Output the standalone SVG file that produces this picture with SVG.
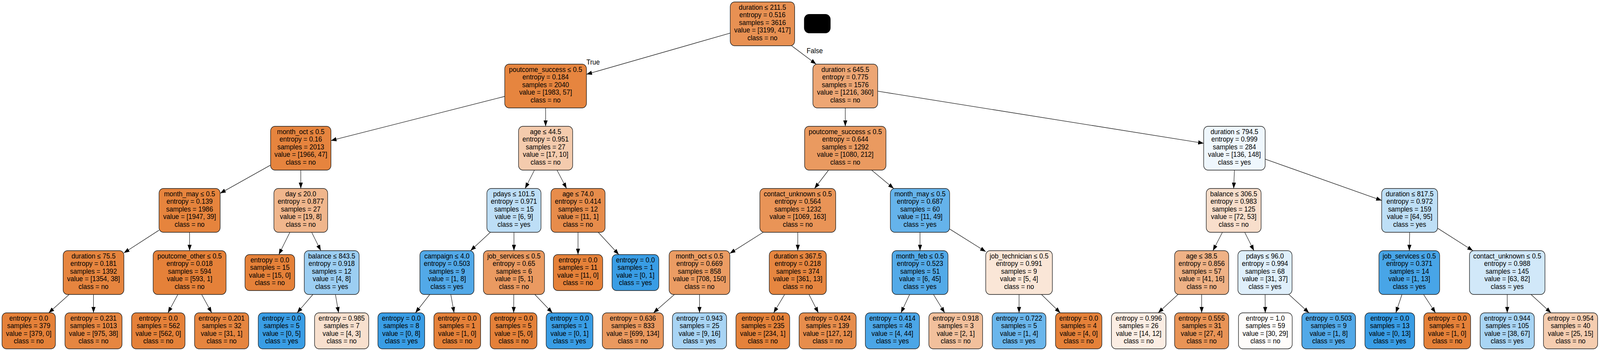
<svg xmlns="http://www.w3.org/2000/svg" width="4346" height="895" viewBox="0 0 4346 895" preserveAspectRatio="none">
<defs>
<style>
svg:root{width:100vw;height:100vh}
.nd rect{stroke:#1a1a1a;stroke-width:1.4}
text{font-family:"Liberation Sans",Arial,Helvetica,sans-serif;font-size:18px;text-anchor:middle;fill:#000}
#edges line{stroke:#1a1a1a;stroke-width:1.3;marker-end:url(#ah)}
</style>
<marker id="ah" markerWidth="15" markerHeight="11" refX="15" refY="5.5" orient="auto" markerUnits="userSpaceOnUse"><path d="M0,0 L15,5.5 L0,11 z" fill="#000"/></marker>
</defs>
<rect width="4346" height="895" fill="#fff"/>
<g id="edges">
<line x1="1983.5" y1="84.6" x2="1593" y2="190"/>
<line x1="2150.2" y1="117" x2="2216.8" y2="164"/>
<line x1="1371" y1="246.5" x2="899" y2="359.4"/>
<line x1="1482" y1="276" x2="1482" y2="323"/>
<line x1="2296" y1="276" x2="2296" y2="323"/>
<line x1="2384" y1="233.2" x2="3269.5" y2="366.4"/>
<line x1="735" y1="422.2" x2="598" y2="494.3"/>
<line x1="817" y1="435" x2="817" y2="482"/>
<line x1="1451.7" y1="435" x2="1426.3" y2="482"/>
<line x1="1513" y1="435" x2="1539" y2="482"/>
<line x1="2250.6" y1="435" x2="2212.4" y2="482"/>
<line x1="2367.5" y1="435" x2="2427.5" y2="482"/>
<line x1="3353" y1="435" x2="3351" y2="482"/>
<line x1="3436.5" y1="406.9" x2="3753" y2="512.6"/>
<line x1="432" y1="588.6" x2="336.5" y2="646.7"/>
<line x1="515" y1="594" x2="515" y2="641"/>
<line x1="787.4" y1="594" x2="757.3" y2="651"/>
<line x1="846.6" y1="594" x2="871.4" y2="641"/>
<line x1="1331.9" y1="594" x2="1278.1" y2="641"/>
<line x1="1396" y1="594" x2="1396" y2="641"/>
<line x1="1570" y1="594" x2="1570" y2="651"/>
<line x1="1624.9" y1="594" x2="1680.9" y2="651"/>
<line x1="2073" y1="594" x2="1982.5" y2="647.9"/>
<line x1="2167" y1="594" x2="2167" y2="641"/>
<line x1="2499" y1="594" x2="2499" y2="641"/>
<line x1="2579.5" y1="585.6" x2="2677.5" y2="643.5"/>
<line x1="3320.4" y1="594" x2="3294.6" y2="641"/>
<line x1="3380.9" y1="594" x2="3406.1" y2="641"/>
<line x1="3829" y1="594" x2="3828" y2="641"/>
<line x1="3905" y1="583.6" x2="4000.7" y2="641"/>
<line x1="187.9" y1="753" x2="132.3" y2="800"/>
<line x1="254" y1="753" x2="254" y2="800"/>
<line x1="483.1" y1="753" x2="456.2" y2="800"/>
<line x1="547.7" y1="753" x2="575.1" y2="800"/>
<line x1="849.9" y1="753" x2="807" y2="800"/>
<line x1="911.1" y1="753" x2="919.7" y2="800"/>
<line x1="1167.4" y1="753" x2="1128.3" y2="800"/>
<line x1="1224.5" y1="753" x2="1233.4" y2="800"/>
<line x1="1395.6" y1="753" x2="1395.3" y2="800"/>
<line x1="1452.7" y1="753" x2="1500.4" y2="800"/>
<line x1="1832" y1="753" x2="1774.9" y2="800"/>
<line x1="1900" y1="753" x2="1900" y2="800"/>
<line x1="2131.3" y1="753" x2="2101.3" y2="800"/>
<line x1="2197.4" y1="753" x2="2223" y2="800"/>
<line x1="2470.8" y1="753" x2="2447.2" y2="800"/>
<line x1="2535.5" y1="753" x2="2566.1" y2="800"/>
<line x1="2768" y1="753" x2="2768" y2="800"/>
<line x1="2828.9" y1="753" x2="2880" y2="800"/>
<line x1="3199.7" y1="753" x2="3145.8" y2="800"/>
<line x1="3264" y1="753" x2="3264" y2="800"/>
<line x1="3436.3" y1="753" x2="3436.7" y2="800"/>
<line x1="3501" y1="753" x2="3555.6" y2="800"/>
<line x1="3808.1" y1="753" x2="3791.4" y2="800"/>
<line x1="3866.7" y1="753" x2="3899.2" y2="800"/>
<line x1="4094" y1="753" x2="4094" y2="800"/>
<line x1="4158.6" y1="753" x2="4212.9" y2="800"/>
<text x="1611" y="165">True</text>
<text x="2213" y="136">False</text>
</g>
<g id="redaction"><rect x="2184" y="36" width="72" height="49" rx="14" fill="#000"/></g>
<g id="n0" class="nd"><rect x="1983.5" y="5" width="175" height="112" rx="12" fill="#e89153"/><text y="25"><tspan x="2071">duration ≤ 211.5</tspan><tspan x="2071" dy="19.4">entropy = 0.516</tspan><tspan x="2071" dy="19.4">samples = 3616</tspan><tspan x="2071" dy="19.4">value = [3199, 417]</tspan><tspan x="2071" dy="19.4">class = no</tspan></text></g>
<g id="n1" class="nd"><rect x="1371" y="164" width="222" height="112" rx="12" fill="#e6853f"/><text y="184"><tspan x="1482">poutcome_success ≤ 0.5</tspan><tspan x="1482" dy="19.4">entropy = 0.184</tspan><tspan x="1482" dy="19.4">samples = 2040</tspan><tspan x="1482" dy="19.4">value = [1983, 57]</tspan><tspan x="1482" dy="19.4">class = no</tspan></text></g>
<g id="n2" class="nd"><rect x="2208" y="164" width="176" height="112" rx="12" fill="#eda674"/><text y="184"><tspan x="2296">duration ≤ 645.5</tspan><tspan x="2296" dy="19.4">entropy = 0.775</tspan><tspan x="2296" dy="19.4">samples = 1576</tspan><tspan x="2296" dy="19.4">value = [1216, 360]</tspan><tspan x="2296" dy="19.4">class = no</tspan></text></g>
<g id="n3" class="nd"><rect x="735" y="323" width="164" height="112" rx="12" fill="#e6843e"/><text y="343"><tspan x="817">month_oct ≤ 0.5</tspan><tspan x="817" dy="19.4">entropy = 0.16</tspan><tspan x="817" dy="19.4">samples = 2013</tspan><tspan x="817" dy="19.4">value = [1966, 47]</tspan><tspan x="817" dy="19.4">class = no</tspan></text></g>
<g id="n4" class="nd"><rect x="1408.5" y="323" width="147" height="112" rx="12" fill="#f4cbad"/><text y="343"><tspan x="1482">age ≤ 44.5</tspan><tspan x="1482" dy="19.4">entropy = 0.951</tspan><tspan x="1482" dy="19.4">samples = 27</tspan><tspan x="1482" dy="19.4">value = [17, 10]</tspan><tspan x="1482" dy="19.4">class = no</tspan></text></g>
<g id="n5" class="nd"><rect x="2185.5" y="323" width="221" height="112" rx="12" fill="#ea9a60"/><text y="343"><tspan x="2296">poutcome_success ≤ 0.5</tspan><tspan x="2296" dy="19.4">entropy = 0.644</tspan><tspan x="2296" dy="19.4">samples = 1292</tspan><tspan x="2296" dy="19.4">value = [1080, 212]</tspan><tspan x="2296" dy="19.4">class = no</tspan></text></g>
<g id="n6" class="nd"><rect x="3269.5" y="323" width="167" height="112" rx="12" fill="#eff7fd"/><text y="343"><tspan x="3353">duration ≤ 794.5</tspan><tspan x="3353" dy="19.4">entropy = 0.999</tspan><tspan x="3353" dy="19.4">samples = 284</tspan><tspan x="3353" dy="19.4">value = [136, 148]</tspan><tspan x="3353" dy="19.4">class = yes</tspan></text></g>
<g id="n7" class="nd"><rect x="432" y="482" width="166" height="112" rx="12" fill="#e6843d"/><text y="502"><tspan x="515">month_may ≤ 0.5</tspan><tspan x="515" dy="19.4">entropy = 0.139</tspan><tspan x="515" dy="19.4">samples = 1986</tspan><tspan x="515" dy="19.4">value = [1947, 39]</tspan><tspan x="515" dy="19.4">class = no</tspan></text></g>
<g id="n8" class="nd"><rect x="744" y="482" width="146" height="112" rx="12" fill="#f0b68c"/><text y="502"><tspan x="817">day ≤ 20.0</tspan><tspan x="817" dy="19.4">entropy = 0.877</tspan><tspan x="817" dy="19.4">samples = 27</tspan><tspan x="817" dy="19.4">value = [19, 8]</tspan><tspan x="817" dy="19.4">class = no</tspan></text></g>
<g id="n9" class="nd"><rect x="1322.5" y="482" width="147" height="112" rx="12" fill="#bddef6"/><text y="502"><tspan x="1396">pdays ≤ 101.5</tspan><tspan x="1396" dy="19.4">entropy = 0.971</tspan><tspan x="1396" dy="19.4">samples = 15</tspan><tspan x="1396" dy="19.4">value = [6, 9]</tspan><tspan x="1396" dy="19.4">class = yes</tspan></text></g>
<g id="n10" class="nd"><rect x="1496.5" y="482" width="147" height="112" rx="12" fill="#e78c4b"/><text y="502"><tspan x="1570">age ≤ 74.0</tspan><tspan x="1570" dy="19.4">entropy = 0.414</tspan><tspan x="1570" dy="19.4">samples = 12</tspan><tspan x="1570" dy="19.4">value = [11, 1]</tspan><tspan x="1570" dy="19.4">class = no</tspan></text></g>
<g id="n11" class="nd"><rect x="2064" y="482" width="206" height="112" rx="12" fill="#e99457"/><text y="502"><tspan x="2167">contact_unknown ≤ 0.5</tspan><tspan x="2167" dy="19.4">entropy = 0.564</tspan><tspan x="2167" dy="19.4">samples = 1232</tspan><tspan x="2167" dy="19.4">value = [1069, 163]</tspan><tspan x="2167" dy="19.4">class = no</tspan></text></g>
<g id="n12" class="nd"><rect x="2418.5" y="482" width="161" height="112" rx="12" fill="#65b3eb"/><text y="502"><tspan x="2499">month_may ≤ 0.5</tspan><tspan x="2499" dy="19.4">entropy = 0.687</tspan><tspan x="2499" dy="19.4">samples = 60</tspan><tspan x="2499" dy="19.4">value = [11, 49]</tspan><tspan x="2499" dy="19.4">class = yes</tspan></text></g>
<g id="n13" class="nd"><rect x="3276.5" y="482" width="149" height="112" rx="12" fill="#f8decb"/><text y="502"><tspan x="3351">balance ≤ 306.5</tspan><tspan x="3351" dy="19.4">entropy = 0.983</tspan><tspan x="3351" dy="19.4">samples = 125</tspan><tspan x="3351" dy="19.4">value = [72, 53]</tspan><tspan x="3351" dy="19.4">class = no</tspan></text></g>
<g id="n14" class="nd"><rect x="3753" y="482" width="152" height="112" rx="12" fill="#bedff6"/><text y="502"><tspan x="3829">duration ≤ 817.5</tspan><tspan x="3829" dy="19.4">entropy = 0.972</tspan><tspan x="3829" dy="19.4">samples = 159</tspan><tspan x="3829" dy="19.4">value = [64, 95]</tspan><tspan x="3829" dy="19.4">class = yes</tspan></text></g>
<g id="n15" class="nd"><rect x="171.5" y="641" width="165" height="112" rx="12" fill="#e6853f"/><text y="661"><tspan x="254">duration ≤ 75.5</tspan><tspan x="254" dy="19.4">entropy = 0.181</tspan><tspan x="254" dy="19.4">samples = 1392</tspan><tspan x="254" dy="19.4">value = [1354, 38]</tspan><tspan x="254" dy="19.4">class = no</tspan></text></g>
<g id="n16" class="nd"><rect x="416" y="641" width="198" height="112" rx="12" fill="#e58139"/><text y="661"><tspan x="515">poutcome_other ≤ 0.5</tspan><tspan x="515" dy="19.4">entropy = 0.018</tspan><tspan x="515" dy="19.4">samples = 594</tspan><tspan x="515" dy="19.4">value = [593, 1]</tspan><tspan x="515" dy="19.4">class = no</tspan></text></g>
<g id="n17" class="nd"><rect x="665.5" y="651" width="135" height="92" rx="12" fill="#e58139"/><text y="671"><tspan x="733">entropy = 0.0</tspan><tspan x="733" dy="19.4">samples = 15</tspan><tspan x="733" dy="19.4">value = [15, 0]</tspan><tspan x="733" dy="19.4">class = no</tspan></text></g>
<g id="n18" class="nd"><rect x="826.5" y="641" width="149" height="112" rx="12" fill="#9ccef2"/><text y="661"><tspan x="901">balance ≤ 843.5</tspan><tspan x="901" dy="19.4">entropy = 0.918</tspan><tspan x="901" dy="19.4">samples = 12</tspan><tspan x="901" dy="19.4">value = [4, 8]</tspan><tspan x="901" dy="19.4">class = yes</tspan></text></g>
<g id="n19" class="nd"><rect x="1140.5" y="641" width="147" height="112" rx="12" fill="#52a9e8"/><text y="661"><tspan x="1214">campaign ≤ 4.0</tspan><tspan x="1214" dy="19.4">entropy = 0.503</tspan><tspan x="1214" dy="19.4">samples = 9</tspan><tspan x="1214" dy="19.4">value = [1, 8]</tspan><tspan x="1214" dy="19.4">class = yes</tspan></text></g>
<g id="n20" class="nd"><rect x="1313" y="641" width="166" height="112" rx="12" fill="#ea9a61"/><text y="661"><tspan x="1396">job_services ≤ 0.5</tspan><tspan x="1396" dy="19.4">entropy = 0.65</tspan><tspan x="1396" dy="19.4">samples = 6</tspan><tspan x="1396" dy="19.4">value = [5, 1]</tspan><tspan x="1396" dy="19.4">class = no</tspan></text></g>
<g id="n21" class="nd"><rect x="1503" y="651" width="134" height="92" rx="12" fill="#e58139"/><text y="671"><tspan x="1570">entropy = 0.0</tspan><tspan x="1570" dy="19.4">samples = 11</tspan><tspan x="1570" dy="19.4">value = [11, 0]</tspan><tspan x="1570" dy="19.4">class = no</tspan></text></g>
<g id="n22" class="nd"><rect x="1662.5" y="651" width="127" height="92" rx="12" fill="#399de5"/><text y="671"><tspan x="1726">entropy = 0.0</tspan><tspan x="1726" dy="19.4">samples = 1</tspan><tspan x="1726" dy="19.4">value = [0, 1]</tspan><tspan x="1726" dy="19.4">class = yes</tspan></text></g>
<g id="n23" class="nd"><rect x="1817.5" y="641" width="165" height="112" rx="12" fill="#eb9c63"/><text y="661"><tspan x="1900">month_oct ≤ 0.5</tspan><tspan x="1900" dy="19.4">entropy = 0.669</tspan><tspan x="1900" dy="19.4">samples = 858</tspan><tspan x="1900" dy="19.4">value = [708, 150]</tspan><tspan x="1900" dy="19.4">class = no</tspan></text></g>
<g id="n24" class="nd"><rect x="2089.5" y="641" width="155" height="112" rx="12" fill="#e68640"/><text y="661"><tspan x="2167">duration ≤ 367.5</tspan><tspan x="2167" dy="19.4">entropy = 0.218</tspan><tspan x="2167" dy="19.4">samples = 374</tspan><tspan x="2167" dy="19.4">value = [361, 13]</tspan><tspan x="2167" dy="19.4">class = no</tspan></text></g>
<g id="n25" class="nd"><rect x="2423" y="641" width="152" height="112" rx="12" fill="#53aae8"/><text y="661"><tspan x="2499">month_feb ≤ 0.5</tspan><tspan x="2499" dy="19.4">entropy = 0.523</tspan><tspan x="2499" dy="19.4">samples = 51</tspan><tspan x="2499" dy="19.4">value = [6, 45]</tspan><tspan x="2499" dy="19.4">class = yes</tspan></text></g>
<g id="n26" class="nd"><rect x="2677.5" y="641" width="181" height="112" rx="12" fill="#fae6d7"/><text y="661"><tspan x="2768">job_technician ≤ 0.5</tspan><tspan x="2768" dy="19.4">entropy = 0.991</tspan><tspan x="2768" dy="19.4">samples = 9</tspan><tspan x="2768" dy="19.4">value = [5, 4]</tspan><tspan x="2768" dy="19.4">class = no</tspan></text></g>
<g id="n27" class="nd"><rect x="3190.5" y="641" width="147" height="112" rx="12" fill="#efb286"/><text y="661"><tspan x="3264">age ≤ 38.5</tspan><tspan x="3264" dy="19.4">entropy = 0.856</tspan><tspan x="3264" dy="19.4">samples = 57</tspan><tspan x="3264" dy="19.4">value = [41, 16]</tspan><tspan x="3264" dy="19.4">class = no</tspan></text></g>
<g id="n28" class="nd"><rect x="3362.5" y="641" width="147" height="112" rx="12" fill="#dfeffb"/><text y="661"><tspan x="3436">pdays ≤ 96.0</tspan><tspan x="3436" dy="19.4">entropy = 0.994</tspan><tspan x="3436" dy="19.4">samples = 68</tspan><tspan x="3436" dy="19.4">value = [31, 37]</tspan><tspan x="3436" dy="19.4">class = yes</tspan></text></g>
<g id="n29" class="nd"><rect x="3745.5" y="641" width="165" height="112" rx="12" fill="#48a5e7"/><text y="661"><tspan x="3828">job_services ≤ 0.5</tspan><tspan x="3828" dy="19.4">entropy = 0.371</tspan><tspan x="3828" dy="19.4">samples = 14</tspan><tspan x="3828" dy="19.4">value = [1, 13]</tspan><tspan x="3828" dy="19.4">class = yes</tspan></text></g>
<g id="n30" class="nd"><rect x="3991.5" y="641" width="205" height="112" rx="12" fill="#d1e8f9"/><text y="661"><tspan x="4094">contact_unknown ≤ 0.5</tspan><tspan x="4094" dy="19.4">entropy = 0.988</tspan><tspan x="4094" dy="19.4">samples = 145</tspan><tspan x="4094" dy="19.4">value = [63, 82]</tspan><tspan x="4094" dy="19.4">class = yes</tspan></text></g>
<g id="l0" class="nd"><rect x="5.5" y="800" width="145" height="92" rx="12" fill="#e58139"/><text y="820"><tspan x="78">entropy = 0.0</tspan><tspan x="78" dy="19.4">samples = 379</tspan><tspan x="78" dy="19.4">value = [379, 0]</tspan><tspan x="78" dy="19.4">class = no</tspan></text></g>
<g id="l1" class="nd"><rect x="176.5" y="800" width="155" height="92" rx="12" fill="#e68641"/><text y="820"><tspan x="254">entropy = 0.231</tspan><tspan x="254" dy="19.4">samples = 1013</tspan><tspan x="254" dy="19.4">value = [975, 38]</tspan><tspan x="254" dy="19.4">class = no</tspan></text></g>
<g id="l2" class="nd"><rect x="357.5" y="800" width="145" height="92" rx="12" fill="#e58139"/><text y="820"><tspan x="430">entropy = 0.0</tspan><tspan x="430" dy="19.4">samples = 562</tspan><tspan x="430" dy="19.4">value = [562, 0]</tspan><tspan x="430" dy="19.4">class = no</tspan></text></g>
<g id="l3" class="nd"><rect x="528.5" y="800" width="147" height="92" rx="12" fill="#e6853f"/><text y="820"><tspan x="602">entropy = 0.201</tspan><tspan x="602" dy="19.4">samples = 32</tspan><tspan x="602" dy="19.4">value = [31, 1]</tspan><tspan x="602" dy="19.4">class = no</tspan></text></g>
<g id="l4" class="nd"><rect x="701.5" y="800" width="127" height="92" rx="12" fill="#399de5"/><text y="820"><tspan x="765">entropy = 0.0</tspan><tspan x="765" dy="19.4">samples = 5</tspan><tspan x="765" dy="19.4">value = [0, 5]</tspan><tspan x="765" dy="19.4">class = yes</tspan></text></g>
<g id="l5" class="nd"><rect x="854.5" y="800" width="147" height="92" rx="12" fill="#f8e0ce"/><text y="820"><tspan x="928">entropy = 0.985</tspan><tspan x="928" dy="19.4">samples = 7</tspan><tspan x="928" dy="19.4">value = [4, 3]</tspan><tspan x="928" dy="19.4">class = no</tspan></text></g>
<g id="l6" class="nd"><rect x="1026.5" y="800" width="127" height="92" rx="12" fill="#399de5"/><text y="820"><tspan x="1090">entropy = 0.0</tspan><tspan x="1090" dy="19.4">samples = 8</tspan><tspan x="1090" dy="19.4">value = [0, 8]</tspan><tspan x="1090" dy="19.4">class = yes</tspan></text></g>
<g id="l7" class="nd"><rect x="1178.5" y="800" width="127" height="92" rx="12" fill="#e58139"/><text y="820"><tspan x="1242">entropy = 0.0</tspan><tspan x="1242" dy="19.4">samples = 1</tspan><tspan x="1242" dy="19.4">value = [1, 0]</tspan><tspan x="1242" dy="19.4">class = no</tspan></text></g>
<g id="l8" class="nd"><rect x="1331.5" y="800" width="127" height="92" rx="12" fill="#e58139"/><text y="820"><tspan x="1395">entropy = 0.0</tspan><tspan x="1395" dy="19.4">samples = 5</tspan><tspan x="1395" dy="19.4">value = [5, 0]</tspan><tspan x="1395" dy="19.4">class = no</tspan></text></g>
<g id="l9" class="nd"><rect x="1483.5" y="800" width="127" height="92" rx="12" fill="#399de5"/><text y="820"><tspan x="1547">entropy = 0.0</tspan><tspan x="1547" dy="19.4">samples = 1</tspan><tspan x="1547" dy="19.4">value = [0, 1]</tspan><tspan x="1547" dy="19.4">class = yes</tspan></text></g>
<g id="l10" class="nd"><rect x="1636" y="800" width="166" height="92" rx="12" fill="#ea995f"/><text y="820"><tspan x="1719">entropy = 0.636</tspan><tspan x="1719" dy="19.4">samples = 833</tspan><tspan x="1719" dy="19.4">value = [699, 134]</tspan><tspan x="1719" dy="19.4">class = no</tspan></text></g>
<g id="l11" class="nd"><rect x="1826.5" y="800" width="147" height="92" rx="12" fill="#a8d4f4"/><text y="820"><tspan x="1900">entropy = 0.943</tspan><tspan x="1900" dy="19.4">samples = 25</tspan><tspan x="1900" dy="19.4">value = [9, 16]</tspan><tspan x="1900" dy="19.4">class = yes</tspan></text></g>
<g id="l12" class="nd"><rect x="1999" y="800" width="146" height="92" rx="12" fill="#e5823a"/><text y="820"><tspan x="2072">entropy = 0.04</tspan><tspan x="2072" dy="19.4">samples = 235</tspan><tspan x="2072" dy="19.4">value = [234, 1]</tspan><tspan x="2072" dy="19.4">class = no</tspan></text></g>
<g id="l13" class="nd"><rect x="2170.5" y="800" width="155" height="92" rx="12" fill="#e78d4c"/><text y="820"><tspan x="2248">entropy = 0.424</tspan><tspan x="2248" dy="19.4">samples = 139</tspan><tspan x="2248" dy="19.4">value = [127, 12]</tspan><tspan x="2248" dy="19.4">class = no</tspan></text></g>
<g id="l14" class="nd"><rect x="2350.5" y="800" width="147" height="92" rx="12" fill="#4ba6e7"/><text y="820"><tspan x="2424">entropy = 0.414</tspan><tspan x="2424" dy="19.4">samples = 48</tspan><tspan x="2424" dy="19.4">value = [4, 44]</tspan><tspan x="2424" dy="19.4">class = yes</tspan></text></g>
<g id="l15" class="nd"><rect x="2523" y="800" width="146" height="92" rx="12" fill="#f2c09c"/><text y="820"><tspan x="2596">entropy = 0.918</tspan><tspan x="2596" dy="19.4">samples = 3</tspan><tspan x="2596" dy="19.4">value = [2, 1]</tspan><tspan x="2596" dy="19.4">class = no</tspan></text></g>
<g id="l16" class="nd"><rect x="2695" y="800" width="146" height="92" rx="12" fill="#6ab6ec"/><text y="820"><tspan x="2768">entropy = 0.722</tspan><tspan x="2768" dy="19.4">samples = 5</tspan><tspan x="2768" dy="19.4">value = [1, 4]</tspan><tspan x="2768" dy="19.4">class = yes</tspan></text></g>
<g id="l17" class="nd"><rect x="2867" y="800" width="126" height="92" rx="12" fill="#e58139"/><text y="820"><tspan x="2930">entropy = 0.0</tspan><tspan x="2930" dy="19.4">samples = 4</tspan><tspan x="2930" dy="19.4">value = [4, 0]</tspan><tspan x="2930" dy="19.4">class = no</tspan></text></g>
<g id="l18" class="nd"><rect x="3019" y="800" width="148" height="92" rx="12" fill="#fbede3"/><text y="820"><tspan x="3093">entropy = 0.996</tspan><tspan x="3093" dy="19.4">samples = 26</tspan><tspan x="3093" dy="19.4">value = [14, 12]</tspan><tspan x="3093" dy="19.4">class = no</tspan></text></g>
<g id="l19" class="nd"><rect x="3190.5" y="800" width="147" height="92" rx="12" fill="#e99456"/><text y="820"><tspan x="3264">entropy = 0.555</tspan><tspan x="3264" dy="19.4">samples = 31</tspan><tspan x="3264" dy="19.4">value = [27, 4]</tspan><tspan x="3264" dy="19.4">class = no</tspan></text></g>
<g id="l20" class="nd"><rect x="3364" y="800" width="146" height="92" rx="12" fill="#fefcfa"/><text y="820"><tspan x="3437">entropy = 1.0</tspan><tspan x="3437" dy="19.4">samples = 59</tspan><tspan x="3437" dy="19.4">value = [30, 29]</tspan><tspan x="3437" dy="19.4">class = no</tspan></text></g>
<g id="l21" class="nd"><rect x="3536" y="800" width="146" height="92" rx="12" fill="#52a9e8"/><text y="820"><tspan x="3609">entropy = 0.503</tspan><tspan x="3609" dy="19.4">samples = 9</tspan><tspan x="3609" dy="19.4">value = [1, 8]</tspan><tspan x="3609" dy="19.4">class = yes</tspan></text></g>
<g id="l22" class="nd"><rect x="3707.5" y="800" width="135" height="92" rx="12" fill="#399de5"/><text y="820"><tspan x="3775">entropy = 0.0</tspan><tspan x="3775" dy="19.4">samples = 13</tspan><tspan x="3775" dy="19.4">value = [0, 13]</tspan><tspan x="3775" dy="19.4">class = yes</tspan></text></g>
<g id="l23" class="nd"><rect x="3867.5" y="800" width="127" height="92" rx="12" fill="#e58139"/><text y="820"><tspan x="3931">entropy = 0.0</tspan><tspan x="3931" dy="19.4">samples = 1</tspan><tspan x="3931" dy="19.4">value = [1, 0]</tspan><tspan x="3931" dy="19.4">class = no</tspan></text></g>
<g id="l24" class="nd"><rect x="4020.5" y="800" width="147" height="92" rx="12" fill="#a9d5f4"/><text y="820"><tspan x="4094">entropy = 0.944</tspan><tspan x="4094" dy="19.4">samples = 105</tspan><tspan x="4094" dy="19.4">value = [38, 67]</tspan><tspan x="4094" dy="19.4">class = yes</tspan></text></g>
<g id="l25" class="nd"><rect x="4192.5" y="800" width="147" height="92" rx="12" fill="#f5cdb0"/><text y="820"><tspan x="4266">entropy = 0.954</tspan><tspan x="4266" dy="19.4">samples = 40</tspan><tspan x="4266" dy="19.4">value = [25, 15]</tspan><tspan x="4266" dy="19.4">class = no</tspan></text></g>
</svg>
